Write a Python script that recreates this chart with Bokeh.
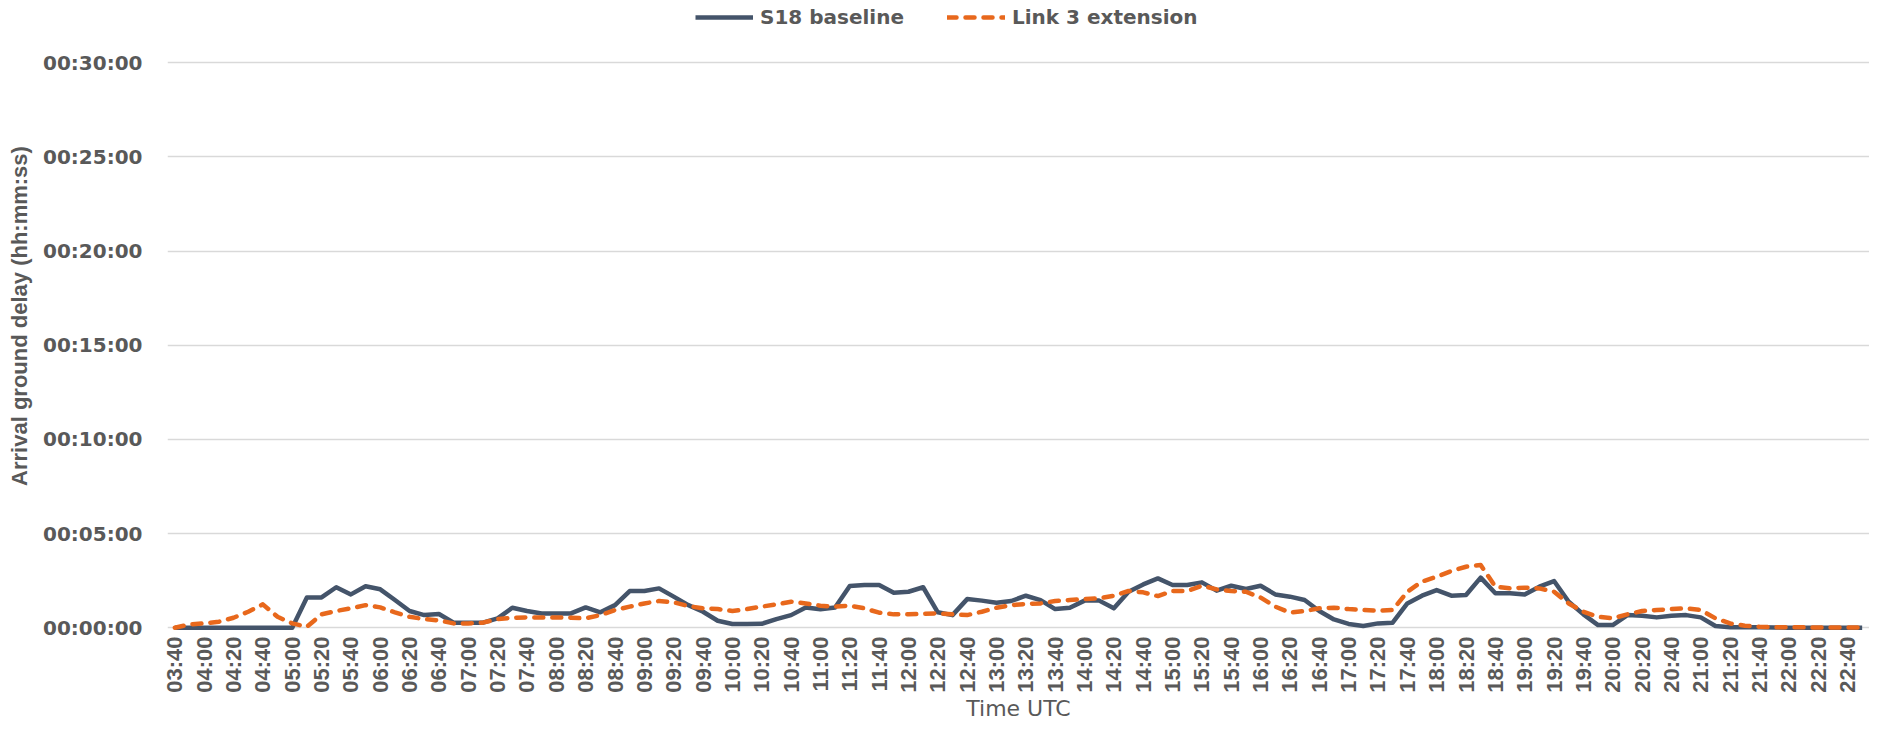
import math
from bokeh.plotting import figure
from bokeh.models import Legend, LegendItem, FixedTicker, Range1d
from bokeh.embed import file_html
from bokeh.resources import INLINE

# Categories: 10-minute slots from 03:40 to 22:50 (UTC)
times = [f"{(220 + 10 * k) // 60:02d}:{(220 + 10 * k) % 60:02d}" for k in range(116)]

# Arrival ground delay, minutes
s18_baseline = [
    0, 0, 0, 0, 0, 0, 0, 0, 0, 1.61, 1.61, 2.15, 1.77, 2.20, 2.04, 1.47, 0.89, 0.67, 0.73, 0.27,
    0.27, 0.27, 0.50, 1.06, 0.89, 0.76, 0.76, 0.76, 1.08, 0.82, 1.20, 1.95, 1.95, 2.09, 1.65, 1.20,
    0.85, 0.37, 0.20, 0.20, 0.21, 0.46, 0.67, 1.08, 0.98, 1.08, 2.22, 2.27, 2.27, 1.86, 1.91, 2.15,
    0.82, 0.67, 1.52, 1.44, 1.33, 1.42, 1.70, 1.47, 0.99, 1.06, 1.44, 1.44, 1.03, 1.91, 2.30, 2.62,
    2.27, 2.27, 2.41, 1.97, 2.23, 2.06, 2.23, 1.77, 1.65, 1.47, 0.89, 0.44, 0.20, 0.09, 0.23, 0.27,
    1.29, 1.70, 2.00, 1.70, 1.74, 2.66, 1.83, 1.83, 1.77, 2.18, 2.48, 1.38, 0.71, 0.14, 0.14, 0.67,
    0.64, 0.55, 0.64, 0.67, 0.55, 0.09, 0.03, 0.02, 0.02, 0.01, 0, 0, 0, 0, 0, 0,
]
link3_extension = [
    0, 0.18, 0.23, 0.32, 0.53, 0.85, 1.24, 0.58, 0.23, 0.05, 0.71, 0.89, 1.03, 1.20, 1.08, 0.82,
    0.58, 0.46, 0.39, 0.23, 0.23, 0.27, 0.46, 0.53, 0.55, 0.55, 0.55, 0.53, 0.50, 0.67, 0.94, 1.12,
    1.29, 1.42, 1.35, 1.15, 1.03, 0.99, 0.89, 0.99, 1.12, 1.24, 1.38, 1.29, 1.17, 1.12, 1.17, 1.03,
    0.80, 0.71, 0.71, 0.74, 0.76, 0.71, 0.67, 0.85, 1.06, 1.20, 1.26, 1.29, 1.42, 1.47, 1.52, 1.56,
    1.70, 1.95, 1.88, 1.68, 1.95, 1.95, 2.23, 2.04, 1.95, 1.91, 1.60, 1.12, 0.80, 0.89, 1.03, 1.06,
    0.99, 0.94, 0.90, 0.94, 1.91, 2.45, 2.71, 3.01, 3.24, 3.33, 2.18, 2.09, 2.13, 2.09, 1.91, 1.29,
    0.85, 0.58, 0.50, 0.71, 0.89, 0.94, 0.99, 1.03, 0.94, 0.50, 0.23, 0.11, 0.05, 0.03, 0.02, 0.02,
    0.01, 0.01, 0.01, 0.01,
]

y_ticks = [0, 5, 10, 15, 20, 25, 30]
y_tick_labels = ["00:00:00", "00:05:00", "00:10:00", "00:15:00", "00:20:00", "00:25:00", "00:30:00"]

x = list(range(len(times)))
x_ticks = x[0::2]
x_tick_labels = times[0::2]

TEXT = "#595959"
DARK = "#44546A"
ORANGE = "#E8681C"

FIG_H = 725
BOTTOM = 94
FRAME_H = FIG_H - BOTTOM          # frame reaches the top edge; room above 30 min holds the legend
PX_PER_MIN = 18.83
Y_LOW = -0.2
Y_HIGH = FRAME_H / PX_PER_MIN + Y_LOW

p = figure(
    width=1869, height=FIG_H, output_backend="svg", toolbar_location=None,
    x_range=Range1d(-0.5, len(times) - 0.5), y_range=Range1d(Y_LOW, Y_HIGH),
    min_border_left=167, min_border_right=0, min_border_top=0, min_border_bottom=BOTTOM,
)
p.outline_line_color = None
p.background_fill_color = "white"

r1 = p.line(x, s18_baseline, line_color=DARK, line_width=4.5, line_join="round")
r2 = p.line(x, link3_extension, line_color=ORANGE, line_width=4.5, line_dash="9 9",
            line_cap="round", line_join="round")

# axes
p.xaxis.ticker = FixedTicker(ticks=x_ticks)
p.xaxis.major_label_overrides = dict(zip(x_ticks, x_tick_labels))
p.xaxis.major_label_orientation = math.pi / 2
p.xaxis.major_label_text_font = "Liberation Sans"
p.xaxis.major_label_text_font_style = "bold"
p.xaxis.major_label_text_font_size = "22px"
p.xaxis.major_label_text_color = TEXT
p.xaxis.major_label_standoff = 5
p.xaxis.axis_label = "Time UTC"
p.xaxis.axis_label_text_font = "DejaVu Sans"
p.xaxis.axis_label_text_font_style = "normal"
p.xaxis.axis_label_text_font_size = "22px"
p.xaxis.axis_label_text_color = TEXT
p.xaxis.axis_label_standoff = 0

p.yaxis.ticker = FixedTicker(ticks=y_ticks)
p.yaxis.major_label_overrides = dict(zip(y_ticks, y_tick_labels))
p.yaxis.major_label_text_font = "DejaVu Sans"
p.yaxis.major_label_text_font_style = "bold"
p.yaxis.major_label_text_font_size = "20px"
p.yaxis.major_label_text_color = TEXT
p.yaxis.major_label_standoff = 25
p.yaxis.axis_label = "Arrival ground delay (hh:mm:ss)"
p.yaxis.axis_label_text_font = "Liberation Sans"
p.yaxis.axis_label_text_font_style = "bold"
p.yaxis.axis_label_text_font_size = "22px"
p.yaxis.axis_label_text_color = TEXT
p.yaxis.axis_label_standoff = 8

for ax in (p.xaxis, p.yaxis):
    ax.axis_line_color = None
    ax.major_tick_line_color = None
    ax.minor_tick_line_color = None
    ax.major_tick_out = 0
    ax.major_tick_in = 0
    ax.minor_tick_out = 0
    ax.minor_tick_in = 0

p.xgrid.visible = False
p.ygrid.grid_line_color = "#D9D9D9"
p.ygrid.grid_line_width = 1.5

legend = Legend(
    items=[LegendItem(label="S18 baseline", renderers=[r1]),
           LegendItem(label="Link 3 extension", renderers=[r2])],
    orientation="horizontal", location=(528, FRAME_H - 29),
    label_text_font="DejaVu Sans", label_text_font_style="bold",
    label_text_font_size="20px", label_text_color=TEXT,
    glyph_width=58, glyph_height=20, label_standoff=7, spacing=43,
    padding=0, margin=0, border_line_color=None, background_fill_alpha=0,
)
p.add_layout(legend, "center")

open("out.html", "w").write(file_html(p, INLINE))
